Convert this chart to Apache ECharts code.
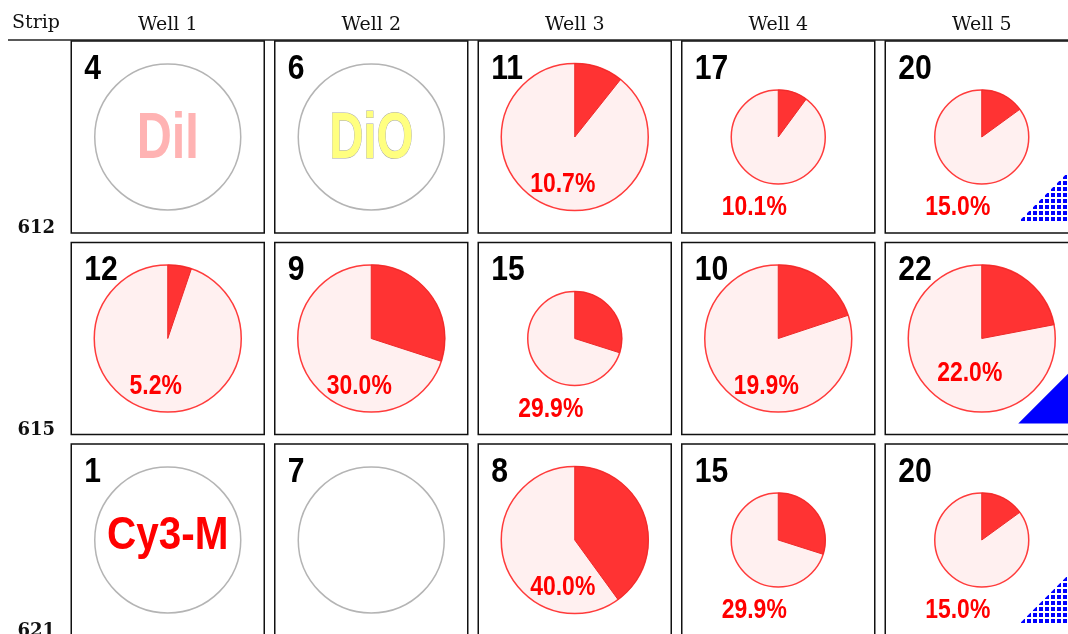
<!DOCTYPE html>
<html>
<head>
<meta charset="utf-8">
<script src="https://cdn.jsdelivr.net/npm/echarts@6/dist/echarts.min.js"></script>
<style>
  html, body { margin: 0; padding: 0; background: #fff; }
  #chart { width: 1068px; height: 634px; }
</style>
</head>
<body>
<div id="chart"></div>
<script>
const wells = ['Well 1', 'Well 2', 'Well 3', 'Well 4', 'Well 5'];
const strips = ['612', '615', '621'];

// cell counts per well (rows = strips)
const counts = [
  [4, 6, 11, 17, 20],
  [12, 9, 15, 10, 22],
  [1, 7, 8, 15, 20]
];

// percent positive, null = control well
const percents = [
  [null, null, 10.7, 10.1, 15.0],
  [5.2, 30.0, 29.9, 19.9, 22.0],
  [null, null, 40.0, 29.9, 15.0]
];

// L = full sample, S = reduced sample
const pieClass = [
  ['L', 'L', 'L', 'S', 'S'],
  ['L', 'L', 'S', 'L', 'L'],
  ['L', 'L', 'L', 'S', 'S']
];

// control dye labels
const controls = [
  ['DiI', 'DiO', null, null, null],
  [null, null, null, null, null],
  ['Cy3-M', '', null, null, null]
];

// corner flags
const flags = [
  [null, null, null, null, 'dots'],
  [null, null, null, null, 'solid'],
  [null, null, null, null, 'dots']
];

const SANS = '"Liberation Sans", Arial, sans-serif';

const dotCanvas = document.createElement('canvas');
dotCanvas.width = 6;
dotCanvas.height = 6;
const dctx = dotCanvas.getContext('2d');
dctx.fillStyle = '#0000ff';
dctx.fillRect(1, 1, 4, 4);

const cells = [];
strips.forEach((s, r) => {
  wells.forEach((w, c) => cells.push([c, r]));
});

// condensed bold text: squeeze a regular bold face horizontally
function label(text, x, y, size, fill, squeeze, align, extra) {
  return {
    type: 'text',
    x: x,
    y: y,
    scaleX: squeeze,
    style: Object.assign({
      text: text, x: 0, y: 0, align: align || 'center', verticalAlign: 'middle',
      font: 'bold ' + size + 'px ' + SANS, fill: fill
    }, extra || {})
  };
}

function renderItem(params, api) {
  const c = api.value(0);
  const r = api.value(1);
  const pt = api.coord([c, r]);
  const band = api.size([1, 1]);
  const w = band[0] - 10.5;
  const h = band[1] - 9.5;
  const x0 = pt[0] - w / 2;
  const y0 = pt[1] - h / 2;
  const cx = pt[0];
  const cy = pt[1];
  const big = pieClass[r][c] === 'L';
  const rad = big ? 73.5 : 47;
  const p = percents[r][c];

  const children = [{
    type: 'rect',
    shape: { x: x0, y: y0, width: w, height: h },
    style: { fill: '#fff', stroke: '#111', lineWidth: 1.5 }
  }];

  if (p === null) {
    children.push({
      type: 'circle',
      shape: { cx: cx, cy: cy, r: 73 },
      style: { fill: '#fff', stroke: '#b4b4b4', lineWidth: 1.5 }
    });
    const dye = controls[r][c];
    if (dye === 'DiI') {
      children.push(label(dye, cx, cy + 3, 64, '#ffb3b3', 0.76));
    } else if (dye === 'DiO') {
      children.push(label(dye, cx, cy + 3, 64, '#ffff80', 0.74, 'center', { stroke: '#a8a8a8', lineWidth: 1 }));
    } else if (dye) {
      children.push(label(dye, cx, cy - 4, 46, '#ff0000', 0.88));
    }
  } else {
    const start = -Math.PI / 2;
    children.push({
      type: 'circle',
      shape: { cx: cx, cy: cy, r: rad },
      style: { fill: '#fff0f0', stroke: '#ff3b3b', lineWidth: 1.5 }
    });
    children.push({
      type: 'sector',
      shape: { cx: cx, cy: cy, r: rad, r0: 0, startAngle: start, endAngle: start + Math.PI * 2 * p / 100, clockwise: true },
      style: { fill: '#ff3333', stroke: '#ee2a2a', lineWidth: 1 }
    });
    const lx = big ? cx - 12 : cx - 24;
    let ly = big ? cy + 48 : cy + 71;
    if (big && flags[r][c]) ly -= 13;
    children.push(label(p.toFixed(1) + '%', lx, ly, 27, '#ff0000', 0.85));
  }

  children.push(label(String(counts[r][c]), x0 + 13, y0 + 28, 35, '#000', 0.86, 'left'));

  const flag = flags[r][c];
  if (flag) {
    const bx = x0 + w - 10;
    const by = y0 + h - 11;
    const leg = 50;
    children.push({
      type: 'polygon',
      shape: { points: [[bx - leg, by], [bx, by], [bx, by - leg]] },
      style: {
        fill: flag === 'solid' ? '#0000ff' : { image: dotCanvas, repeat: 'repeat' }
      }
    });
  }

  return { type: 'group', children: children };
}

const chart = echarts.init(document.getElementById('chart'));

chart.setOption({
  backgroundColor: '#fff',
  animation: false,
  grid: { left: 66, top: 36.25, width: 1017.5, height: 604.5, outerBoundsMode: 'none', containLabel: false },
  xAxis: {
    type: 'category',
    data: wells,
    position: 'top',
    axisLine: { show: false },
    axisTick: { show: false },
    splitLine: { show: false },
    axisLabel: { fontFamily: 'DejaVu Serif', fontSize: 19, color: '#111', margin: 2, interval: 0 }
  },
  yAxis: {
    type: 'category',
    data: strips,
    inverse: true,
    axisLine: { show: false },
    axisTick: { show: false },
    splitLine: { show: false },
    axisLabel: {
      margin: 11,
      interval: 0,
      formatter: '{v|{value}}',
      rich: {
        v: { fontFamily: 'DejaVu Serif', fontWeight: 'bold', fontSize: 18, color: '#111', padding: [183, 0, 0, 0] }
      }
    }
  },
  graphic: [
    { type: 'line', shape: { x1: 8, y1: 40, x2: 1068, y2: 40 }, style: { stroke: '#222', lineWidth: 1.5 } },
    { type: 'text', left: 12, top: 14, style: { text: 'Strip', font: '19px "DejaVu Serif"', fill: '#111' } }
  ],
  series: [{
    type: 'custom',
    renderItem: renderItem,
    data: cells,
    silent: true,
    clip: false,
    encode: { x: 0, y: 1 }
  }]
});
</script>
</body>
</html>
